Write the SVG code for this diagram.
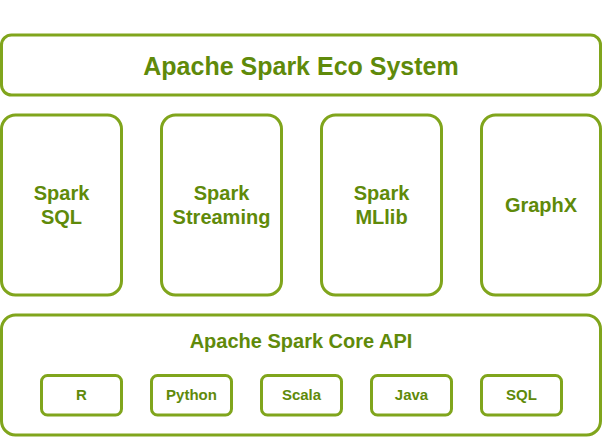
<svg xmlns="http://www.w3.org/2000/svg" width="603" height="437" viewBox="0 0 603 437">
<style>
.box{fill:#ffffff;stroke:#80a51c;stroke-width:3}
.t{font-family:"Liberation Sans",Arial,sans-serif;font-weight:bold;fill:#5f8a0a;text-anchor:middle}
.t25{font-size:25px}
.t20{font-size:20px}
.t15{font-size:15px}
</style>
<rect width="603" height="437" fill="#ffffff"/>
<g id="eco">
<rect class="box" x="1.5" y="35" width="599" height="60" rx="10"/>
<text class="t t25" x="301" y="75">Apache Spark Eco System</text>
</g>
<g id="sql">
<rect class="box" x="1.5" y="115" width="120" height="180" rx="14"/>
<text class="t t20" x="61.5" y="200">Spark</text>
<text class="t t20" x="61.5" y="224">SQL</text>
</g>
<g id="streaming">
<rect class="box" x="161.5" y="115" width="120" height="180" rx="14"/>
<text class="t t20" x="221.5" y="200">Spark</text>
<text class="t t20" x="221.5" y="224">Streaming</text>
</g>
<g id="mllib">
<rect class="box" x="321.5" y="115" width="120" height="180" rx="14"/>
<text class="t t20" x="381.5" y="200">Spark</text>
<text class="t t20" x="381.5" y="224">MLlib</text>
</g>
<g id="graphx">
<rect class="box" x="481.5" y="115" width="119" height="180" rx="14"/>
<text class="t t20" x="541" y="212">GraphX</text>
</g>
<g id="core">
<rect class="box" x="1.5" y="315" width="599" height="120" rx="14"/>
<text class="t t20" x="301" y="348">Apache Spark Core API</text>
</g>
<g id="r">
<rect class="box" x="41.5" y="375.5" width="80" height="39.5" rx="6"/>
<text class="t t15" x="81.5" y="400">R</text>
</g>
<g id="python">
<rect class="box" x="151.5" y="375.5" width="80" height="39.5" rx="6"/>
<text class="t t15" x="191.5" y="400">Python</text>
</g>
<g id="scala">
<rect class="box" x="261.5" y="375.5" width="80" height="39.5" rx="6"/>
<text class="t t15" x="301.5" y="400">Scala</text>
</g>
<g id="java">
<rect class="box" x="371.5" y="375.5" width="80" height="39.5" rx="6"/>
<text class="t t15" x="411.5" y="400">Java</text>
</g>
<g id="sqllang">
<rect class="box" x="481.5" y="375.5" width="80" height="39.5" rx="6"/>
<text class="t t15" x="521.5" y="400">SQL</text>
</g>
<g id="connectors"></g>
</svg>
